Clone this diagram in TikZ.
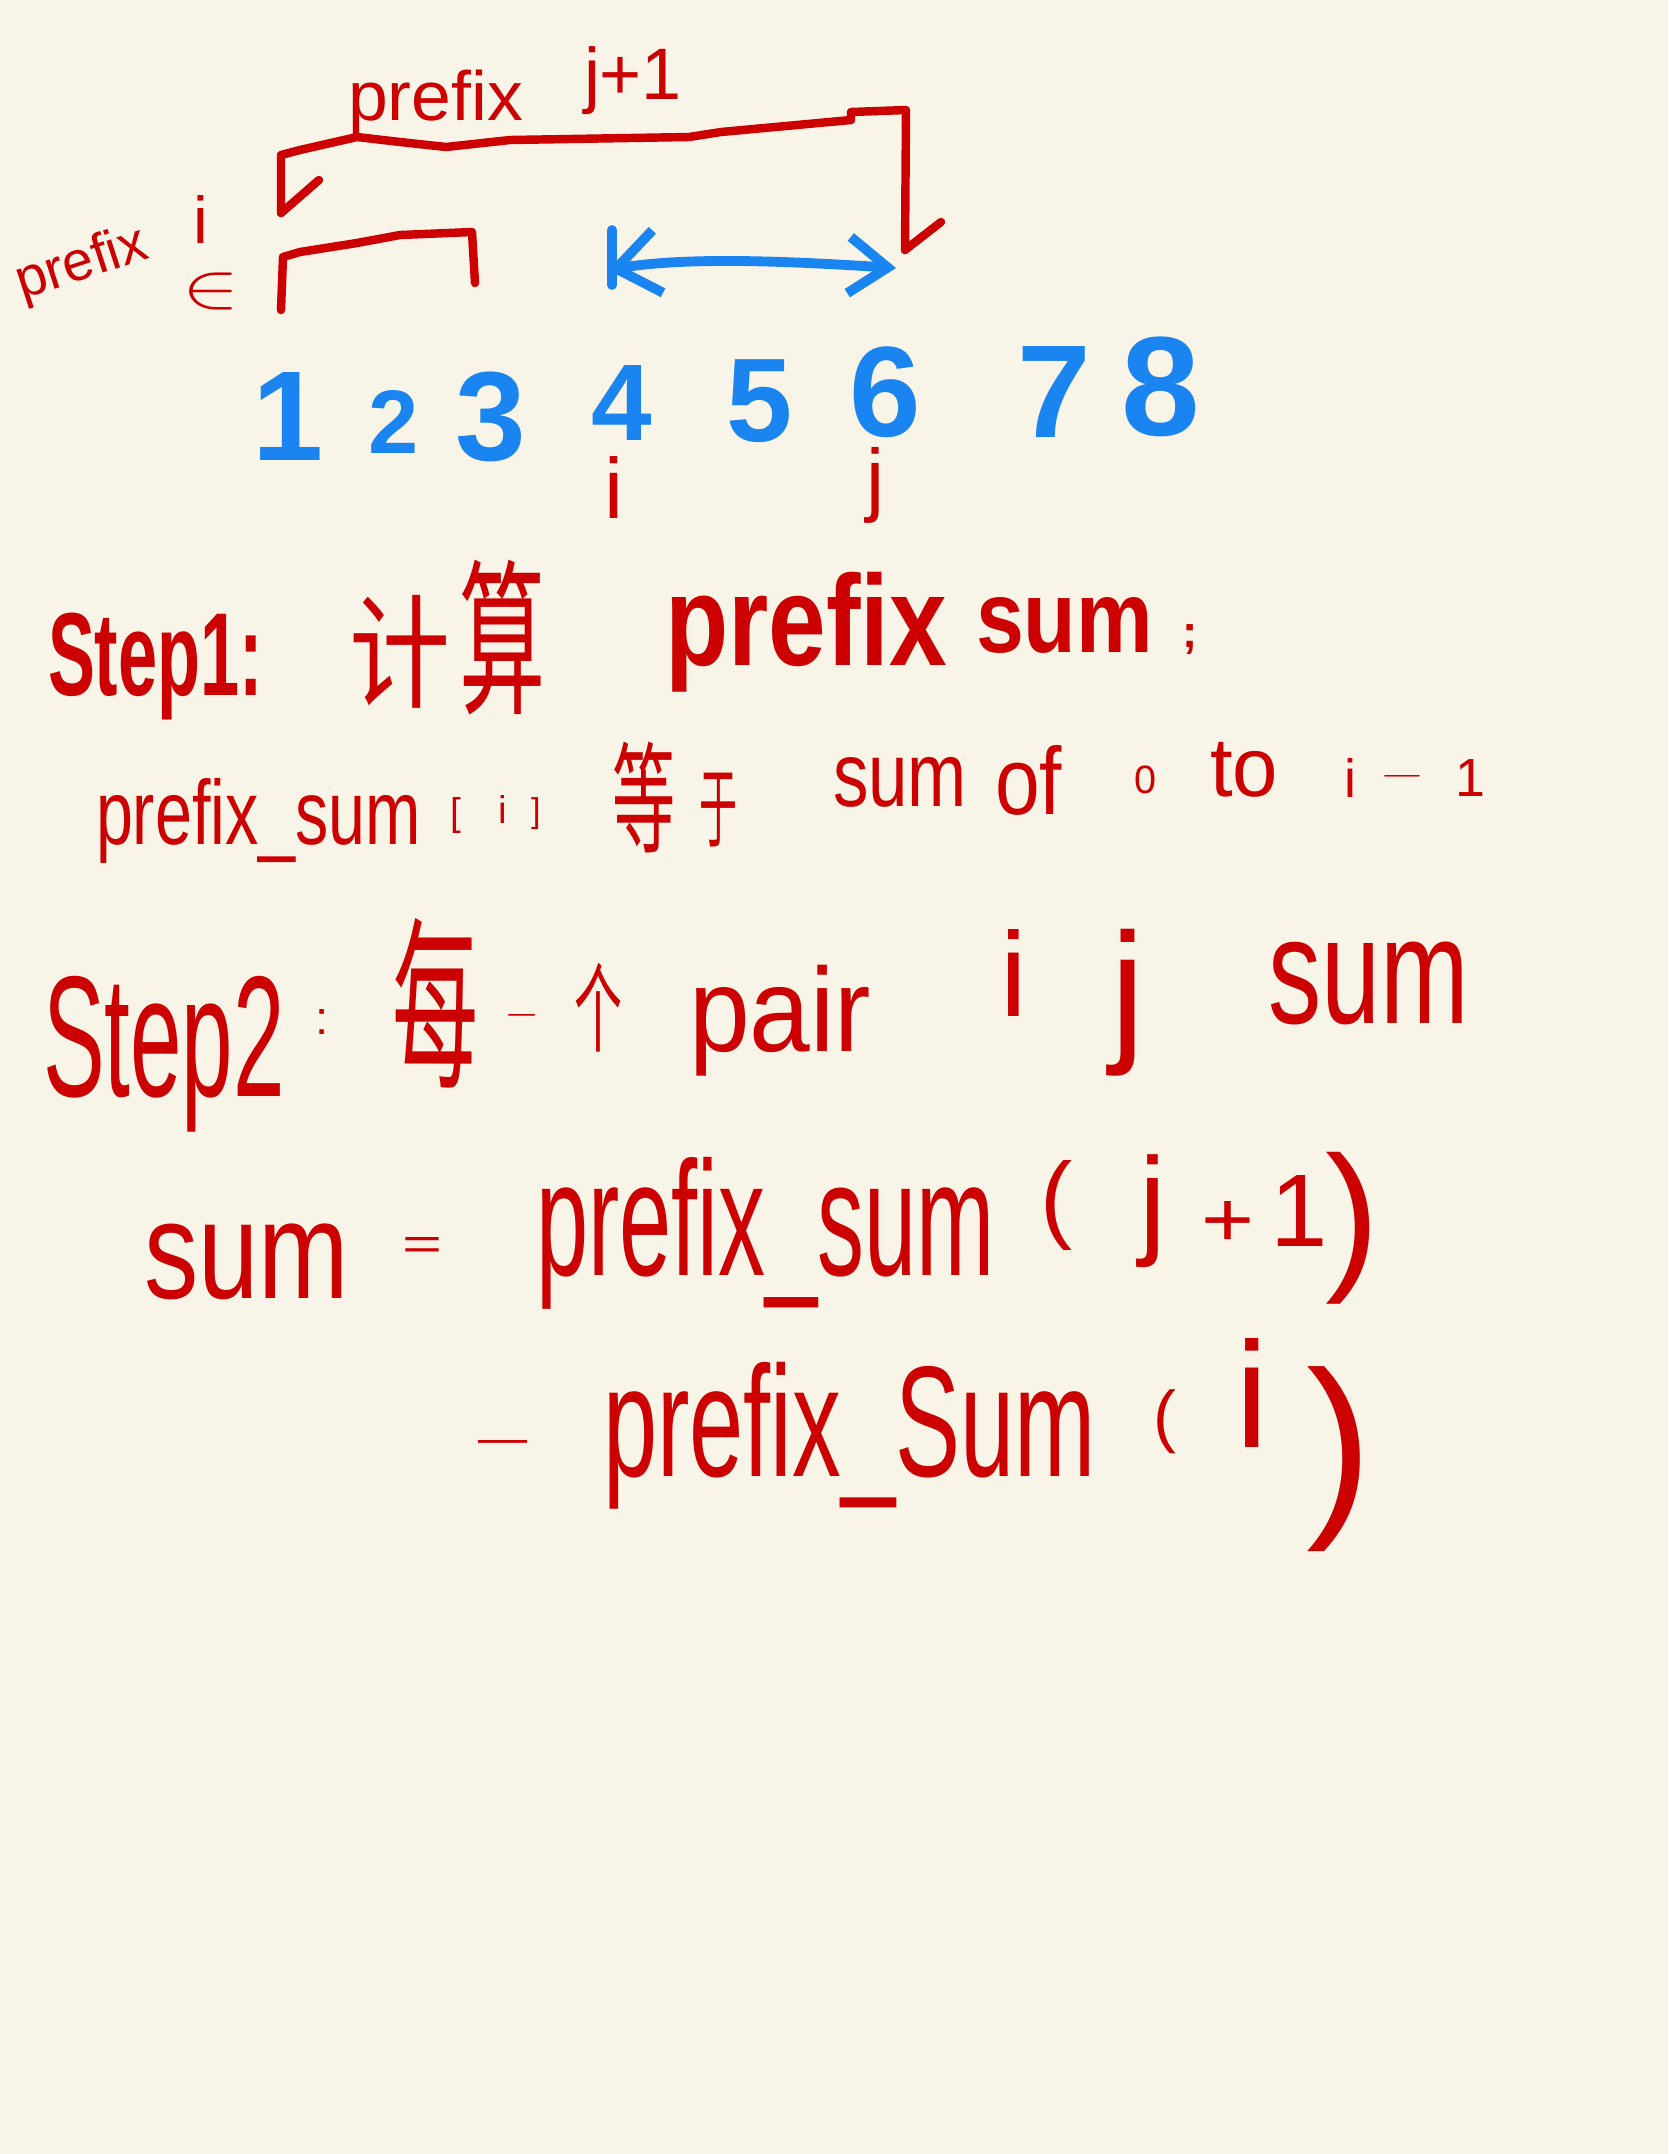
\documentclass[tikz,border=0pt]{standalone}
\usepackage{fontspec}
\setmainfont{Liberation Sans}
\newfontfamily\cjk{Noto Sans CJK SC}
\usetikzlibrary{arrows.meta}
\definecolor{bg}{HTML}{F8F5E8}
\definecolor{ink}{HTML}{CC0000}
\definecolor{blu}{HTML}{1A84F0}
\newdimen\pxu \pxu=0.01cm
\newcommand\fb[3]{\resizebox*{#1\pxu}{#2\pxu}{#3}}
\newcommand\fh[2]{\resizebox*{!}{#1\pxu}{#2}}
\tikzset{
  hw/.style={inner sep=0pt, outer sep=0pt, anchor=north west, text=ink, font=\fontsize{30}{34}\selectfont},
  hwb/.style={hw, font=\fontsize{30}{34}\selectfont\bfseries},
  dig/.style={hw, anchor=north, text=blu, font=\fontsize{40}{44}\selectfont\bfseries},
  brk/.style={draw=ink, line width=2.4pt, line cap=round, line join=round},
  barrow/.style={draw=blu, line width=2.8pt, line cap=round, line join=round}
}
\begin{document}
\begin{tikzpicture}[x=0.01cm, y=-0.01cm]
\fill[bg] (0,0) rectangle (1668,2154);
\useasboundingbox (0,0) rectangle (1668,2154);

% ---- top labels
\node[hw] (pj) at (348,70) {\fb{175}{65}{prefix}};
\node[hw] (j1) at (584,47) {\fb{98}{68}{j+1}};
\node[hw, anchor=center, rotate=18] (pi) at (82,265) {\fb{135}{52}{prefix}};
\node[hw] (pii) at (193,195) {\fh{48}{i}};
\node[hw] (pin) at (182,273) {\fb{57}{37}{$\in$}};

% ---- big bracket (prefix j+1)
\coordinate (bL) at (281,213);
\coordinate (bR) at (905,250);
\draw[brk] (bL) -- (281,155) -- (300,150) -- (357,137) -- (400,142) -- (446,147) -- (510,140) -- (689,137) -- (721,132) -- (851,120) -- (851,112) -- (906,110) -- (bR);
\draw[brk] (bL) -- (319,180);
\draw[brk] (bR) -- (941,222);

% ---- small bracket (prefix i)
\coordinate (sL) at (281,310);
\coordinate (sR) at (475,283);
\draw[brk] (sL) -- (283,257) -- (300,252) -- (357,243) -- (400,235) -- (472,232) -- (sR);

% ---- blue double arrow
\coordinate (aL) at (608,270);
\coordinate (aR) at (896,268);
\coordinate (aB1) at (612,230);
\coordinate (aB2) at (612,285);
\draw[barrow, {Straight Barb[length=12pt, width=18pt, line width=2.8pt]}-{Straight Barb[length=11pt, width=16pt, line width=2.8pt]}]
  (aL) .. controls (690,256) and (800,262) .. (aR);
\draw[barrow] (aB1) -- (aB2);

% ---- blue digits
\node[dig] (d1) at (288,372) {\fh{88}{1}};
\node[dig] (d2) at (394,390) {\fh{63}{2}};
\node[dig] (d3) at (491,372) {\fh{90}{3}};
\node[dig] (d4) at (622,365) {\fh{75}{4}};
\node[dig] (d5) at (760,360) {\fh{83}{5}};
\node[dig] (d6) at (885,347) {\fh{91}{6}};
\node[dig] (d7) at (1054,346) {\fh{91}{7}};
\node[dig] (d8) at (1161,337) {\fh{100}{8}};

\node[hw] (ui) at (604,456) {\fh{62}{i}};
\node[hw] (uj) at (866,447) {\fh{76}{j}};

% ---- Step1 line
\node[hwb] (s1) at (48,613) {\fb{215}{107}{Step1:}};
\node[hw] (s1a) at (349,595) {\fb{101}{113}{\cjk 计}};
\node[hw] (s1b) at (459,560) {\fb{86}{155}{\cjk 算}};
\node[hwb] (s1c) at (665,572) {\fb{282}{120}{prefix}};
\node[hwb] (s1d) at (976,597) {\fb{177}{56}{sum}};
\node[hwb] (s1e) at (1182,625) {\fh{30}{;}};

% ---- thin line
\node[hw] (t1) at (96,778) {\fb{325}{85}{prefix\_sum}};
\node[hw] (t2a) at (450,798) {\fh{36}{[}};
\node[hw] (t2b) at (498,795) {\fh{28}{i}};
\node[hw] (t2c) at (531,798) {\fh{32}{]}};
\node[hw] (t3) at (612,742) {\fb{63}{111}{\cjk 等}};
\node[hw] (t4) at (699,773) {\fb{38}{74}{\cjk 于}};
\node[hw] (t5) at (833,757) {\fb{134}{50}{sum}};
\node[hw] (t6) at (995,745) {\fb{67}{70}{of}};
\node[hw] (t7) at (1134,766) {\fh{28}{0}};
\node[hw] (t8) at (1210,742) {\fb{68}{55}{to}};
\node[hw] (t9a) at (1344,758) {\fh{39}{i}};
\node[hw] (t9b) at (1378,775) {\fb{48}{6}{-}};
\node[hw] (t9c) at (1455,759) {\fh{37}{1}};

% ---- Step2 line
\node[hw] (u1) at (43,976) {\fb{242}{156}{Step2}};
\node[hw] (u2) at (315,1009) {\fh{25}{:}};
\node[hw] (u3) at (392,918) {\fb{86}{170}{\cjk 每}};
\node[hw] (u4) at (507,1014) {\fb{29}{9}{\cjk 一}};
\node[hw] (u5) at (574,963) {\fb{48}{89}{\cjk 个}};
\node[hw] (u6) at (689,965) {\fb{182}{111}{pair}};
\node[hw] (u7) at (1000,929) {\fh{87}{i}};
\node[hw] (u8) at (1110,929) {\fh{147}{j}};
\node[hw] (u9) at (1268,942) {\fb{201}{83}{sum}};

% ---- sum = prefix_sum(j+1)
\node[hw] (v1) at (144,1224) {\fb{205}{76}{sum}};
\node[hw] (v2) at (402,1237) {\fb{40}{22}{=}};
\node[hw] (v3) at (536,1157) {\fb{459}{152}{prefix\_sum}};
\node[hw] (v4) at (1040,1160) {\fh{90}{(}};
\node[hw] (v5) at (1139,1155) {\fh{113}{j}};
\node[hw] (v6) at (1201,1201) {\fb{53}{45}{+}};
\node[hw] (v7) at (1270,1175) {\fh{71}{1}};
\node[hw] (v8) at (1325,1152) {\fh{152}{)}};

% ---- - prefix_Sum(i)
\node[hw] (w1) at (469,1440) {\fb{67}{11}{-}};
\node[hw] (w2) at (603,1362) {\fb{493}{147}{prefix\_Sum}};
\node[hw] (w3) at (1153,1390) {\fh{64}{(}};
\node[hw] (w4) at (1235,1338) {\fh{109}{i}};
\node[hw] (w5) at (1306,1367) {\fh{185}{)}};
\end{tikzpicture}
\end{document}
